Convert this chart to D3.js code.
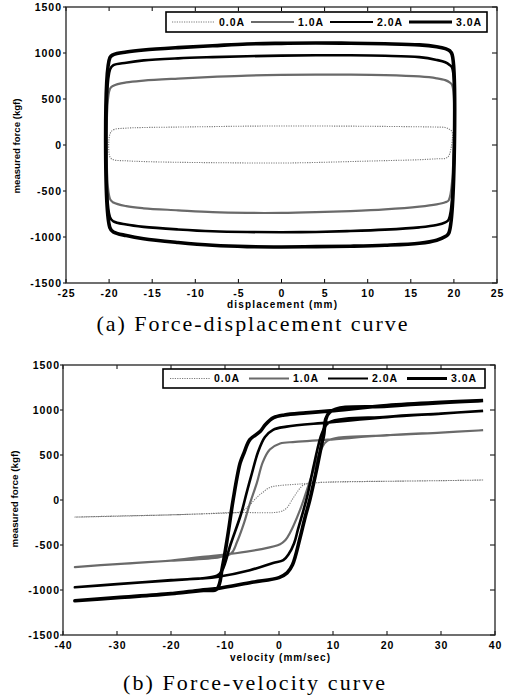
<!DOCTYPE html>
<html><head><meta charset="utf-8">
<script src="https://cdn.jsdelivr.net/npm/d3@7"></script>
<style>body{margin:0;background:#fff}svg{display:block}</style>
</head><body><svg id="c" width="514" height="695"></svg>
<script>
// ---------- DATA ----------
const seriesLabels = ["0.0A", "1.0A", "2.0A", "3.0A"];
const fdXTicks = [-25, -20, -15, -10, -5, 0, 5, 10, 15, 20, 25];
const forceTicks = [-1500, -1000, -500, 0, 500, 1000, 1500];
const fvXTicks = [-40, -30, -20, -10, 0, 10, 20, 30, 40];

// Force-displacement: upper branch (left->right) and lower branch (right->left)
const fdDispUpper = [-19.9, -19.5, -18, -16, -12, -8, -4, 0, 4, 8, 12, 16, 18, 19, 19.5, 19.8];
const fdDispLower = [19.4, 19, 18, 16, 12, 8, 4, 0, -4, -8, -12, -16, -18, -19.5, -19.9];
const fdUpper00 = [120, 165, 183, 190, 195, 200, 205, 206, 206, 205, 202, 198, 195, 190, 170, 140];
const fdLower00 = [-120, -145, -150, -160, -170, -180, -190, -196, -195, -192, -188, -180, -172, -160, -130];
const fdUpper10 = [610, 645, 680, 700, 722, 740, 755, 762, 765, 765, 760, 745, 725, 705, 680, 650];
const fdLower10 = [-600, -622, -645, -670, -700, -718, -730, -738, -738, -730, -710, -688, -665, -625, -585];
const fdUpper20 = [820, 868, 895, 920, 942, 955, 965, 972, 975, 975, 970, 955, 925, 900, 870, 838];
const fdLower20 = [-810, -840, -870, -895, -920, -935, -945, -948, -946, -938, -918, -890, -865, -830, -785];
const fdUpper30 = [950, 982, 1010, 1032, 1058, 1078, 1098, 1105, 1108, 1106, 1100, 1088, 1068, 1048, 1025, 980];
const fdLower30 = [-960, -995, -1035, -1068, -1090, -1100, -1105, -1108, -1105, -1090, -1060, -1020, -985, -945, -900];

// Force-velocity loops: [velocity, force]
const fvLoop00 = [[37.8, 222], [30, 215], [20, 208], [9.4, 200], [3.3, 175], [0, 160], [-1.7, 140], [-3, 85], [-4.1, 30], [-5.5, -60], [-7, -128], [-10, -142], [-20, -165], [-30, -180], [-37.8, -190],
  [-30, -178], [-20, -165], [-14.6, -155], [-7, -140], [0.2, -130], [1.4, -90], [2.5, 10], [3.5, 100], [4.5, 165], [7, 192], [11.3, 200], [20, 208], [30, 215], [37.8, 222]];
const fvLoop10 = [[37.8, 775], [30, 750], [20, 720], [9, 670], [3, 645], [0.2, 628], [-1.7, 560], [-3, 420], [-4.1, 190], [-5.5, -60], [-6.5, -260], [-7.8, -470], [-8.8, -590], [-11, -635], [-20, -675], [-30, -712], [-37.8, -745],
  [-30, -712], [-20, -672], [-14.6, -635], [-8, -592], [-3.5, -548], [0.2, -492], [1.2, -445], [2, -370], [3.9, -110], [5.1, 100], [6.5, 350], [7.8, 560], [9, 660], [20, 718], [30, 748], [37.8, 775]];
const fvLoop20 = [[37.8, 990], [30, 960], [20, 920], [9, 860], [1.4, 815], [-1.1, 780], [-2.6, 700], [-3.9, 530], [-5, 300], [-6, 80], [-7, -150], [-9, -500], [-10.5, -780], [-11.5, -842], [-20, -890], [-30, -935], [-37.8, -970],
  [-30, -935], [-20, -895], [-14.6, -872], [-11.5, -855], [-5.4, -780], [-1.1, -700], [0.8, -668], [1.8, -600], [2.8, -480], [3.5, -330], [4.5, -120], [5.3, 60], [6.5, 400], [8, 750], [9.2, 860], [20, 925], [30, 960], [37.8, 990]];
const fvLoop30 = [[37.8, 1105], [30, 1085], [20, 1050], [9.5, 990], [5, 968], [1, 945], [-1, 915], [-2.5, 840], [-3.5, 760], [-5.4, 670], [-6.5, 520], [-7.2, 410], [-8.5, 0], [-9.5, -400], [-10.5, -750], [-11.5, -990], [-14, -1005], [-20, -1040], [-30, -1085], [-37.8, -1120],
  [-30, -1085], [-20, -1042], [-14.6, -1002], [-11.5, -985], [-5, -915], [0, -862], [1.5, -810], [2.5, -720], [3.9, -420], [4.8, -200], [5.7, 0], [7, 350], [8.2, 700], [9.4, 975], [20, 1042], [30, 1082], [37.8, 1102]];

// ---------- STYLE ----------
const styles = [
  {stroke: "#7a7a7a", width: 1.1, dash: "1.2,1.2"},
  {stroke: "#6a6a6a", width: 2.2, dash: null},
  {stroke: "#000", width: 2.6, dash: null},
  {stroke: "#000", width: 3.6, dash: null}
];
const tickFont = "'Liberation Sans', Arial, sans-serif";
const svg = d3.select("#c");

function tickText(sel) {
  return sel.attr("font-family", tickFont).attr("font-weight", "bold").attr("font-size", 10.5).attr("letter-spacing", 1);
}

function drawFrame(g, x, y, xTicks, yTicks, yLabelX, xLabelY) {
  const [x0, x1] = x.range(), [y0, y1] = y.range();
  const ax = g.append("g");
  xTicks.forEach(t => {
    ax.append("line").attr("x1", x(t)).attr("x2", x(t)).attr("y1", y0).attr("y2", y0 - 4).attr("stroke", "#000").attr("stroke-width", 1);
    ax.append("line").attr("x1", x(t)).attr("x2", x(t)).attr("y1", y1).attr("y2", y1 + 4).attr("stroke", "#000").attr("stroke-width", 1);
    tickText(ax.append("text").attr("x", x(t) + 0.5).attr("y", xLabelY).attr("text-anchor", "middle")).text(String(t));
  });
  yTicks.forEach(t => {
    ax.append("line").attr("x1", x0 - 3).attr("x2", x0).attr("y1", y(t)).attr("y2", y(t)).attr("stroke", "#000").attr("stroke-width", 1);
    ax.append("line").attr("x1", x1).attr("x2", x1 - 5).attr("y1", y(t)).attr("y2", y(t)).attr("stroke", "#000").attr("stroke-width", 1);
    tickText(ax.append("text").attr("x", yLabelX).attr("y", y(t)).attr("dy", "0.36em").attr("text-anchor", "end")).text(String(t));
  });
  g.append("rect").attr("x", x0).attr("y", y1).attr("width", x1 - x0).attr("height", y0 - y1)
    .attr("fill", "none").attr("stroke", "#222").attr("stroke-width", 1.3);
}

function drawLegend(g, bx, by, bw, bh, lineX, step, lineLen) {
  g.append("rect").attr("x", bx).attr("y", by).attr("width", bw).attr("height", bh)
    .attr("fill", "#fff").attr("stroke", "#000").attr("stroke-width", 1.6);
  seriesLabels.forEach((lab, i) => {
    const s = styles[i];
    const lx = lineX + step * i;
    g.append("line").attr("x1", lx).attr("x2", lx + lineLen).attr("y1", by + bh / 2).attr("y2", by + bh / 2)
      .attr("stroke", s.stroke).attr("stroke-width", i === 3 ? 3 : (i === 2 ? 2 : s.width)).attr("stroke-dasharray", s.dash);
    tickText(g.append("text").attr("x", lx + lineLen + 4).attr("y", by + bh / 2).attr("dy", "0.36em")).text(lab);
  });
}

// ---------- CHART (a) ----------
const xa = d3.scaleLinear().domain([-25, 25]).range([66, 497]);
const ya = d3.scaleLinear().domain([-1500, 1500]).range([283, 7]);
const ga = svg.append("g");
const fdUppers = [fdUpper00, fdUpper10, fdUpper20, fdUpper30];
const fdLowers = [fdLower00, fdLower10, fdLower20, fdLower30];
const lineA = d3.line().x(d => xa(d[0])).y(d => ya(d[1])).curve(d3.curveCatmullRomClosed.alpha(0.5));
seriesLabels.forEach((lab, i) => {
  const pts = fdDispUpper.map((d, k) => [d, fdUppers[i][k]]).concat(fdDispLower.map((d, k) => [d, fdLowers[i][k]]));
  const s = styles[i];
  ga.append("path").attr("d", lineA(pts)).attr("fill", "none").attr("stroke", s.stroke)
    .attr("stroke-width", s.width).attr("stroke-dasharray", s.dash).attr("stroke-linejoin", "round");
});
drawFrame(ga, xa, ya, fdXTicks, forceTicks, 62, 297);
drawLegend(ga, 166, 12, 321, 20, 172, 79, 43);
ga.append("text").attr("transform", "translate(20,146) rotate(-90)").attr("text-anchor", "middle")
  .attr("font-family", tickFont).attr("font-weight", "bold").attr("font-size", 9)
  .attr("textLength", 95).attr("lengthAdjust", "spacingAndGlyphs").text("measured force (kgf)");
ga.append("text").attr("x", 282).attr("y", 308).attr("text-anchor", "middle")
  .attr("font-family", tickFont).attr("font-weight", "bold").attr("font-size", 10)
  .attr("textLength", 110).attr("lengthAdjust", "spacing").text("displacement (mm)");
ga.append("text").attr("x", 252).attr("y", 331).attr("text-anchor", "middle")
  .attr("font-family", "'Liberation Serif', 'DejaVu Serif', serif").attr("font-size", 22)
  .attr("textLength", 311).attr("lengthAdjust", "spacing").text("(a) Force-displacement curve");

// ---------- CHART (b) ----------
const xb = d3.scaleLinear().domain([-40, 40]).range([63, 495]);
const yb = d3.scaleLinear().domain([-1500, 1500]).range([635, 365]);
const gb = svg.append("g");
const fvLoops = [fvLoop00, fvLoop10, fvLoop20, fvLoop30];
const lineB = d3.line().x(d => xb(d[0])).y(d => yb(d[1])).curve(d3.curveCatmullRom.alpha(0.5));
fvLoops.forEach((loop, i) => {
  const s = styles[i];
  gb.append("path").attr("d", lineB(loop)).attr("fill", "none").attr("stroke", s.stroke)
    .attr("stroke-width", s.width).attr("stroke-dasharray", s.dash).attr("stroke-linejoin", "round");
});
drawFrame(gb, xb, yb, fvXTicks, forceTicks, 60, 649);
drawLegend(gb, 163, 369, 322, 19, 170, 79, 40);
gb.append("text").attr("transform", "translate(18,499) rotate(-90)").attr("text-anchor", "middle")
  .attr("font-family", tickFont).attr("font-weight", "bold").attr("font-size", 9)
  .attr("textLength", 97).attr("lengthAdjust", "spacingAndGlyphs").text("measured force (kgf)");
gb.append("text").attr("x", 280).attr("y", 661).attr("text-anchor", "middle")
  .attr("font-family", tickFont).attr("font-weight", "bold").attr("font-size", 10)
  .attr("textLength", 100).attr("lengthAdjust", "spacing").text("velocity (mm/sec)");
gb.append("text").attr("x", 254).attr("y", 690).attr("text-anchor", "middle")
  .attr("font-family", "'Liberation Serif', 'DejaVu Serif', serif").attr("font-size", 22)
  .attr("textLength", 262).attr("lengthAdjust", "spacing").text("(b) Force-velocity curve");
</script></body></html>
